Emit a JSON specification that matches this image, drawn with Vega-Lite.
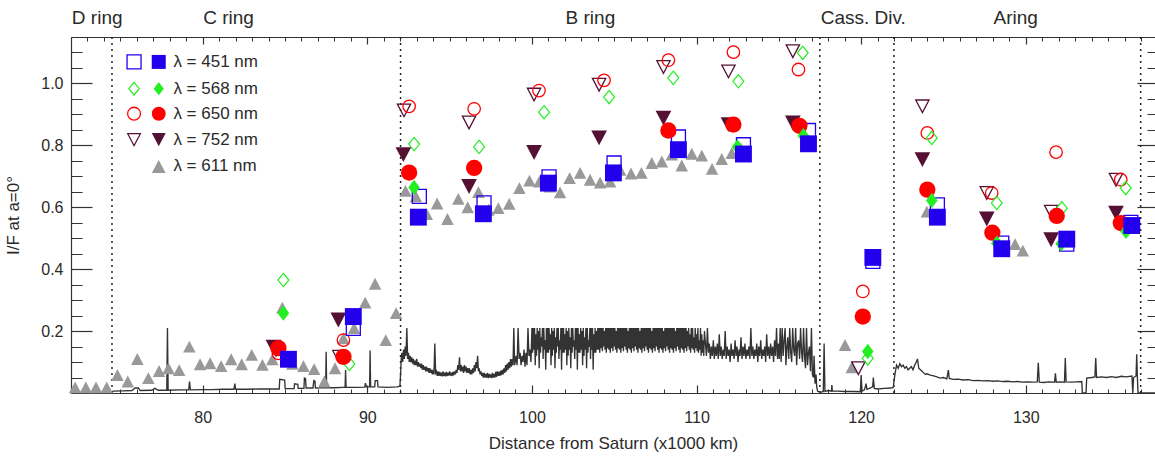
{
"$schema": "https://vega.github.io/schema/vega-lite/v6.json",
"width": 1084, "height": 356,
"autosize": {"type": "none"},
"padding": {"left": 71, "top": 37, "right": 0, "bottom": 64},
"background": "white",
"config": {
 "view": {"stroke": null},
 "axis": {"grid": false, "labelFont": "Liberation Sans", "titleFont": "Liberation Sans", "labelColor": "#2a2a2a", "titleColor": "#2a2a2a", "tickColor": "#333333", "domainColor": "#333333", "labelFontSize": 16, "titleFontSize": 17, "titleFontWeight": "normal", "labelFlush": false, "labelOverlap": false},
 "text": {"font": "Liberation Sans"}
},
"resolve": {"scale": {"x": "shared", "y": "shared", "size": "independent"}, "axis": {"x": "independent", "y": "independent"}},
"datasets": {
 "bounds": [{"r":74.49},{"r":92.02},{"r":117.49},{"r":121.99},{"r":136.98}],
 "legtxt": [
  {"x":78.22,"y":1.0695,"t":"λ = 451 nm"},
  {"x":78.22,"y":0.9832,"t":"λ = 568 nm"},
  {"x":78.22,"y":0.9023,"t":"λ = 650 nm"},
  {"x":78.22,"y":0.8182,"t":"λ = 752 nm"},
  {"x":78.22,"y":0.7319,"t":"λ = 611 nm"}
 ],
 "prof": [
  {"r":72.0,"p":0.002},{"r":73.5,"p":0.002},{"r":74.45,"p":0.003},{"r":74.55,"p":0.006},{"r":75.2,"p":0.007},{"r":75.7,"p":0.008},{"r":75.9,"p":0.016},{"r":76.1,"p":0.016},{"r":76.2,"p":0.008},{"r":76.9,"p":0.009},{"r":77.1,"p":0.015},{"r":77.3,"p":0.009},{"r":77.82,"p":0.009},{"r":77.86,"p":0.21},{"r":77.9,"p":0.009},{"r":78.6,"p":0.01},{"r":79.15,"p":0.01},{"r":79.2,"p":0.037},{"r":79.25,"p":0.01},{"r":80.0,"p":0.011},{"r":80.6,"p":0.011},{"r":81.2,"p":0.012},{"r":81.9,"p":0.012},{"r":81.95,"p":0.03},{"r":82.0,"p":0.012},{"r":82.7,"p":0.012},{"r":83.4,"p":0.013},{"r":84.1,"p":0.013},{"r":84.65,"p":0.013},{"r":84.68,"p":0.044},{"r":84.98,"p":0.042},{"r":85.01,"p":0.014},{"r":85.55,"p":0.014},{"r":85.58,"p":0.03},{"r":85.78,"p":0.028},{"r":85.8,"p":0.015},{"r":86.15,"p":0.015},{"r":86.18,"p":0.048},{"r":86.25,"p":0.046},{"r":86.28,"p":0.016},{"r":86.7,"p":0.016},{"r":86.75,"p":0.04},{"r":86.82,"p":0.038},{"r":86.85,"p":0.016},{"r":87.15,"p":0.017},{"r":87.18,"p":0.03},{"r":87.22,"p":0.017},{"r":87.47,"p":0.017},{"r":87.5,"p":0.133},{"r":87.53,"p":0.017},{"r":88.0,"p":0.017},{"r":88.5,"p":0.018},{"r":88.65,"p":0.018},{"r":88.68,"p":0.074},{"r":88.71,"p":0.018},{"r":89.3,"p":0.018},{"r":89.85,"p":0.019},{"r":89.88,"p":0.032},{"r":89.95,"p":0.02},{"r":90.14,"p":0.02},{"r":90.17,"p":0.137},{"r":90.2,"p":0.02},{"r":90.45,"p":0.02},{"r":90.48,"p":0.04},{"r":90.62,"p":0.04},{"r":90.65,"p":0.02},{"r":91.2,"p":0.018},{"r":91.8,"p":0.02},{"r":91.98,"p":0.022},
  {"r":92.02,"p":0.06},{"r":92.06,"p":0.11},{"r":92.1,"p":0.13},{"r":92.15,"p":0.1},{"r":92.2,"p":0.14},{"r":92.25,"p":0.11},{"r":92.3,"p":0.15},{"r":92.35,"p":0.12},{"r":92.4,"p":0.21},{"r":92.45,"p":0.11},{"r":92.5,"p":0.13},{"r":92.55,"p":0.1},{"r":92.6,"p":0.12},{"r":92.65,"p":0.1},{"r":92.7,"p":0.115},{"r":92.75,"p":0.095},{"r":92.8,"p":0.11},{"r":92.85,"p":0.09},{"r":92.9,"p":0.105},{"r":92.95,"p":0.09},{"r":93.0,"p":0.11},{"r":93.05,"p":0.085},{"r":93.1,"p":0.1},{"r":93.15,"p":0.085},{"r":93.2,"p":0.095},{"r":93.25,"p":0.08},{"r":93.3,"p":0.095},{"r":93.35,"p":0.075},{"r":93.4,"p":0.09},{"r":93.45,"p":0.075},{"r":93.5,"p":0.085},{"r":93.55,"p":0.07},{"r":93.6,"p":0.085},{"r":93.65,"p":0.07},{"r":93.7,"p":0.08},{"r":93.75,"p":0.065},{"r":93.8,"p":0.08},{"r":93.85,"p":0.065},{"r":93.9,"p":0.075},{"r":93.95,"p":0.06},{"r":94.0,"p":0.075},{"r":94.05,"p":0.06},{"r":94.1,"p":0.16},{"r":94.15,"p":0.065},{"r":94.2,"p":0.07},{"r":94.25,"p":0.055},{"r":94.3,"p":0.07},{"r":94.35,"p":0.055},{"r":94.4,"p":0.068},{"r":94.45,"p":0.055},{"r":94.5,"p":0.066},{"r":94.55,"p":0.054},{"r":94.6,"p":0.07},{"r":94.65,"p":0.055},{"r":94.7,"p":0.066},{"r":94.75,"p":0.054},{"r":94.8,"p":0.068},{"r":94.85,"p":0.055},{"r":94.9,"p":0.066},{"r":94.95,"p":0.056},{"r":95.0,"p":0.07},{"r":95.05,"p":0.056},{"r":95.1,"p":0.066},{"r":95.15,"p":0.055},{"r":95.2,"p":0.068},{"r":95.25,"p":0.057},{"r":95.3,"p":0.07},{"r":95.35,"p":0.06},{"r":95.4,"p":0.075},{"r":95.45,"p":0.065},{"r":95.5,"p":0.09},{"r":95.55,"p":0.075},{"r":95.6,"p":0.115},{"r":95.65,"p":0.07},{"r":95.7,"p":0.09},{"r":95.75,"p":0.07},{"r":95.8,"p":0.085},{"r":95.85,"p":0.065},{"r":95.9,"p":0.09},{"r":95.95,"p":0.07},{"r":96.0,"p":0.085},{"r":96.05,"p":0.065},{"r":96.1,"p":0.08},{"r":96.15,"p":0.065},{"r":96.2,"p":0.08},{"r":96.25,"p":0.06},{"r":96.3,"p":0.075},{"r":96.35,"p":0.06},{"r":96.4,"p":0.08},{"r":96.45,"p":0.065},{"r":96.5,"p":0.09},{"r":96.55,"p":0.07},{"r":96.6,"p":0.1},{"r":96.65,"p":0.08},{"r":96.7,"p":0.12},{"r":96.75,"p":0.07},{"r":96.8,"p":0.08},{"r":96.85,"p":0.06},{"r":96.9,"p":0.07},{"r":96.95,"p":0.055},{"r":97.0,"p":0.065},{"r":97.05,"p":0.05},{"r":97.1,"p":0.065},{"r":97.15,"p":0.05},{"r":97.2,"p":0.062},{"r":97.25,"p":0.05},{"r":97.3,"p":0.065},{"r":97.35,"p":0.048},{"r":97.4,"p":0.062},{"r":97.45,"p":0.05},{"r":97.5,"p":0.06},{"r":97.55,"p":0.048},{"r":97.6,"p":0.065},{"r":97.65,"p":0.05},{"r":97.7,"p":0.062},{"r":97.75,"p":0.05},{"r":97.8,"p":0.068},{"r":97.85,"p":0.052},{"r":97.9,"p":0.07},{"r":97.95,"p":0.055},{"r":98.0,"p":0.068},{"r":98.05,"p":0.055},{"r":98.1,"p":0.072},{"r":98.15,"p":0.058},{"r":98.2,"p":0.075},{"r":98.25,"p":0.06},{"r":98.3,"p":0.08},{"r":98.35,"p":0.065},{"r":98.4,"p":0.09},{"r":98.45,"p":0.07},{"r":98.5,"p":0.095},{"r":98.55,"p":0.075},{"r":98.6,"p":0.1},{"r":98.65,"p":0.08},{"r":98.7,"p":0.11},{"r":98.75,"p":0.085},{"r":98.8,"p":0.11},{"r":98.85,"p":0.09},{"r":98.9,"p":0.21},{"r":98.95,"p":0.09},
  {"r":99.04,"p":0.12},{"r":99.1,"p":0.09},{"r":99.16,"p":0.21},{"r":99.22,"p":0.11},{"r":99.28,"p":0.13},{"r":99.34,"p":0.09},{"r":99.4,"p":0.12},{"r":99.46,"p":0.1},{"r":99.52,"p":0.14},{"r":99.58,"p":0.085},{"r":99.64,"p":0.13},{"r":99.7,"p":0.09},{"r":99.76,"p":0.21},{"r":99.82,"p":0.12},{"r":99.88,"p":0.14},{"r":99.94,"p":0.1},{"r":100.0,"p":0.21},
  {"r":100.04,"p":0.13},{"r":100.08,"p":0.21},{"r":100.12,"p":0.14},{"r":100.16,"p":0.21},{"r":100.2,"p":0.09},{"r":100.24,"p":0.19},{"r":100.28,"p":0.12},{"r":100.32,"p":0.21},{"r":100.36,"p":0.14},{"r":100.4,"p":0.2},{"r":100.44,"p":0.08},{"r":100.48,"p":0.21},{"r":100.52,"p":0.13},{"r":100.56,"p":0.18},{"r":100.6,"p":0.15},{"r":100.64,"p":0.21},{"r":100.68,"p":0.11},{"r":100.72,"p":0.21},{"r":100.76,"p":0.14},{"r":100.8,"p":0.17},{"r":100.84,"p":0.075},{"r":100.88,"p":0.21},{"r":100.92,"p":0.13},{"r":100.96,"p":0.21},
  {"r":101.0,"p":0.13},{"r":101.04,"p":0.21},{"r":101.08,"p":0.14},{"r":101.12,"p":0.19},{"r":101.16,"p":0.09},{"r":101.2,"p":0.21},{"r":101.24,"p":0.12},{"r":101.28,"p":0.2},{"r":101.32,"p":0.14},{"r":101.36,"p":0.21},{"r":101.4,"p":0.08},{"r":101.44,"p":0.18},{"r":101.48,"p":0.13},{"r":101.52,"p":0.21},{"r":101.56,"p":0.15},{"r":101.6,"p":0.21},{"r":101.64,"p":0.11},{"r":101.68,"p":0.17},{"r":101.72,"p":0.14},{"r":101.76,"p":0.21},{"r":101.8,"p":0.075},{"r":101.84,"p":0.21},{"r":101.88,"p":0.13},{"r":101.92,"p":0.21},{"r":101.96,"p":0.13},
  {"r":102.0,"p":0.19},{"r":102.04,"p":0.14},{"r":102.08,"p":0.21},{"r":102.12,"p":0.09},{"r":102.16,"p":0.2},{"r":102.2,"p":0.12},{"r":102.24,"p":0.21},{"r":102.28,"p":0.14},{"r":102.32,"p":0.18},{"r":102.36,"p":0.08},{"r":102.4,"p":0.21},{"r":102.44,"p":0.13},{"r":102.48,"p":0.21},{"r":102.52,"p":0.15},{"r":102.56,"p":0.17},{"r":102.6,"p":0.11},{"r":102.64,"p":0.21},{"r":102.68,"p":0.14},{"r":102.72,"p":0.21},{"r":102.76,"p":0.075},{"r":102.8,"p":0.21},{"r":102.84,"p":0.13},{"r":102.88,"p":0.19},{"r":102.92,"p":0.13},{"r":102.96,"p":0.21},
  {"r":103.0,"p":0.14},{"r":103.04,"p":0.2},{"r":103.08,"p":0.09},{"r":103.12,"p":0.21},{"r":103.16,"p":0.12},{"r":103.2,"p":0.18},{"r":103.24,"p":0.14},{"r":103.28,"p":0.21},{"r":103.32,"p":0.08},{"r":103.36,"p":0.21},{"r":103.4,"p":0.13},{"r":103.44,"p":0.17},{"r":103.48,"p":0.15},{"r":103.52,"p":0.21},{"r":103.56,"p":0.11},{"r":103.6,"p":0.21},{"r":103.64,"p":0.14},{"r":103.68,"p":0.21},{"r":103.72,"p":0.075},{"r":103.76,"p":0.19},{"r":103.8,"p":0.13},{"r":103.84,"p":0.21},{"r":103.88,"p":0.13},{"r":103.92,"p":0.2},{"r":103.96,"p":0.14},{"r":104.0,"p":0.21},
  {"r":104.04,"p":0.14},{"r":104.08,"p":0.21},{"r":104.12,"p":0.13},{"r":104.16,"p":0.21},{"r":104.2,"p":0.145},{"r":104.24,"p":0.21},{"r":104.28,"p":0.135},{"r":104.32,"p":0.21},{"r":104.36,"p":0.15},{"r":104.4,"p":0.2},{"r":104.44,"p":0.14},{"r":104.48,"p":0.21},{"r":104.52,"p":0.13},{"r":104.56,"p":0.21},{"r":104.6,"p":0.145},{"r":104.64,"p":0.21},{"r":104.68,"p":0.14},{"r":104.72,"p":0.21},{"r":104.76,"p":0.13},{"r":104.8,"p":0.21},{"r":104.84,"p":0.145},{"r":104.88,"p":0.21},{"r":104.92,"p":0.135},{"r":104.96,"p":0.21},
  {"r":105.0,"p":0.15},{"r":105.04,"p":0.21},{"r":105.08,"p":0.14},{"r":105.12,"p":0.2},{"r":105.16,"p":0.13},{"r":105.2,"p":0.21},{"r":105.24,"p":0.145},{"r":105.28,"p":0.21},{"r":105.32,"p":0.14},{"r":105.36,"p":0.21},{"r":105.4,"p":0.13},{"r":105.44,"p":0.21},{"r":105.48,"p":0.145},{"r":105.52,"p":0.21},{"r":105.56,"p":0.135},{"r":105.6,"p":0.21},{"r":105.64,"p":0.15},{"r":105.68,"p":0.21},{"r":105.72,"p":0.14},{"r":105.76,"p":0.21},{"r":105.8,"p":0.13},{"r":105.84,"p":0.2},{"r":105.88,"p":0.145},{"r":105.92,"p":0.21},{"r":105.96,"p":0.14},
  {"r":106.0,"p":0.21},{"r":106.04,"p":0.13},{"r":106.08,"p":0.21},{"r":106.12,"p":0.145},{"r":106.16,"p":0.21},{"r":106.2,"p":0.135},{"r":106.24,"p":0.21},{"r":106.28,"p":0.15},{"r":106.32,"p":0.21},{"r":106.36,"p":0.14},{"r":106.4,"p":0.21},{"r":106.44,"p":0.13},{"r":106.48,"p":0.21},{"r":106.52,"p":0.145},{"r":106.56,"p":0.2},{"r":106.6,"p":0.14},{"r":106.64,"p":0.21},{"r":106.68,"p":0.13},{"r":106.72,"p":0.21},{"r":106.76,"p":0.145},{"r":106.8,"p":0.21},{"r":106.84,"p":0.135},{"r":106.88,"p":0.21},{"r":106.92,"p":0.15},{"r":106.96,"p":0.21},
  {"r":107.0,"p":0.14},{"r":107.04,"p":0.21},{"r":107.08,"p":0.13},{"r":107.12,"p":0.21},{"r":107.16,"p":0.145},{"r":107.2,"p":0.21},{"r":107.24,"p":0.14},{"r":107.28,"p":0.2},{"r":107.32,"p":0.13},{"r":107.36,"p":0.21},{"r":107.4,"p":0.145},{"r":107.44,"p":0.21},{"r":107.48,"p":0.135},{"r":107.52,"p":0.21},{"r":107.56,"p":0.15},{"r":107.6,"p":0.21},{"r":107.64,"p":0.14},{"r":107.68,"p":0.21},{"r":107.72,"p":0.13},{"r":107.76,"p":0.21},{"r":107.8,"p":0.145},{"r":107.84,"p":0.21},{"r":107.88,"p":0.14},{"r":107.92,"p":0.21},{"r":107.96,"p":0.13},
  {"r":108.0,"p":0.2},{"r":108.04,"p":0.145},{"r":108.08,"p":0.21},{"r":108.12,"p":0.135},{"r":108.16,"p":0.21},{"r":108.2,"p":0.15},{"r":108.24,"p":0.21},{"r":108.28,"p":0.14},{"r":108.32,"p":0.21},{"r":108.36,"p":0.13},{"r":108.4,"p":0.21},{"r":108.44,"p":0.145},{"r":108.48,"p":0.21},{"r":108.52,"p":0.14},{"r":108.56,"p":0.21},{"r":108.6,"p":0.13},{"r":108.64,"p":0.21},{"r":108.68,"p":0.145},{"r":108.72,"p":0.2},{"r":108.76,"p":0.135},{"r":108.8,"p":0.21},{"r":108.84,"p":0.15},{"r":108.88,"p":0.21},{"r":108.92,"p":0.14},{"r":108.96,"p":0.21},
  {"r":109.0,"p":0.13},{"r":109.04,"p":0.21},{"r":109.08,"p":0.145},{"r":109.12,"p":0.21},{"r":109.16,"p":0.14},{"r":109.2,"p":0.21},{"r":109.24,"p":0.13},{"r":109.28,"p":0.21},{"r":109.32,"p":0.145},{"r":109.36,"p":0.21},{"r":109.4,"p":0.135},{"r":109.44,"p":0.2},{"r":109.48,"p":0.15},{"r":109.52,"p":0.21},{"r":109.56,"p":0.14},{"r":109.6,"p":0.19},{"r":109.64,"p":0.13},{"r":109.68,"p":0.21},{"r":109.72,"p":0.145},{"r":109.76,"p":0.21},{"r":109.8,"p":0.14},{"r":109.84,"p":0.18},{"r":109.88,"p":0.13},{"r":109.92,"p":0.21},{"r":109.96,"p":0.145},
  {"r":110.0,"p":0.19},{"r":110.04,"p":0.135},{"r":110.08,"p":0.21},{"r":110.12,"p":0.13},{"r":110.16,"p":0.17},{"r":110.2,"p":0.14},{"r":110.24,"p":0.21},{"r":110.28,"p":0.12},{"r":110.32,"p":0.19},{"r":110.36,"p":0.13},{"r":110.4,"p":0.17},{"r":110.44,"p":0.12},{"r":110.48,"p":0.2},
  {"r":110.54,"p":0.16},{"r":110.6,"p":0.12},{"r":110.66,"p":0.21},{"r":110.72,"p":0.13},{"r":110.78,"p":0.16},{"r":110.84,"p":0.11},{"r":110.9,"p":0.15},{"r":110.96,"p":0.12},{"r":111.02,"p":0.17},{"r":111.08,"p":0.11},{"r":111.14,"p":0.15},{"r":111.2,"p":0.12},{"r":111.26,"p":0.16},{"r":111.32,"p":0.11},{"r":111.38,"p":0.19},{"r":111.44,"p":0.12},{"r":111.5,"p":0.15},{"r":111.56,"p":0.11},{"r":111.62,"p":0.14},{"r":111.68,"p":0.12},{"r":111.74,"p":0.2},{"r":111.8,"p":0.11},{"r":111.86,"p":0.15},{"r":111.92,"p":0.12},{"r":111.98,"p":0.14},{"r":112.04,"p":0.1},{"r":112.1,"p":0.16},{"r":112.16,"p":0.12},{"r":112.22,"p":0.14},{"r":112.28,"p":0.11},{"r":112.34,"p":0.17},{"r":112.4,"p":0.12},{"r":112.46,"p":0.15},{"r":112.52,"p":0.1},{"r":112.58,"p":0.14},{"r":112.64,"p":0.12},{"r":112.7,"p":0.18},{"r":112.76,"p":0.11},{"r":112.82,"p":0.15},{"r":112.88,"p":0.12},{"r":112.94,"p":0.16},{"r":113.0,"p":0.11},{"r":113.06,"p":0.14},{"r":113.12,"p":0.12},{"r":113.18,"p":0.15},{"r":113.24,"p":0.11},{"r":113.3,"p":0.21},{"r":113.36,"p":0.12},{"r":113.42,"p":0.15},{"r":113.48,"p":0.11},{"r":113.54,"p":0.14},{"r":113.6,"p":0.12},{"r":113.66,"p":0.16},{"r":113.72,"p":0.1},{"r":113.78,"p":0.15},{"r":113.84,"p":0.12},{"r":113.9,"p":0.17},{"r":113.96,"p":0.11},{"r":114.02,"p":0.14},{"r":114.08,"p":0.12},{"r":114.14,"p":0.15},{"r":114.2,"p":0.1},{"r":114.26,"p":0.19},{"r":114.32,"p":0.12},{"r":114.38,"p":0.15},{"r":114.44,"p":0.11},{"r":114.5,"p":0.16},{"r":114.56,"p":0.12},{"r":114.62,"p":0.15},{"r":114.68,"p":0.1},{"r":114.74,"p":0.17},{"r":114.8,"p":0.12},{"r":114.86,"p":0.21},{"r":114.92,"p":0.11},
  {"r":114.98,"p":0.16},{"r":115.03,"p":0.11},{"r":115.08,"p":0.21},{"r":115.14,"p":0.1},{"r":115.2,"p":0.21},{"r":115.26,"p":0.12},{"r":115.32,"p":0.17},{"r":115.38,"p":0.21},{"r":115.43,"p":0.09},{"r":115.49,"p":0.15},{"r":115.54,"p":0.18},{"r":115.6,"p":0.11},{"r":115.66,"p":0.21},{"r":115.72,"p":0.13},{"r":115.78,"p":0.1},{"r":115.84,"p":0.21},{"r":115.9,"p":0.14},{"r":115.96,"p":0.12},{"r":116.02,"p":0.21},{"r":116.08,"p":0.09},{"r":116.14,"p":0.16},{"r":116.2,"p":0.17},{"r":116.26,"p":0.11},{"r":116.32,"p":0.21},{"r":116.38,"p":0.13},{"r":116.44,"p":0.1},{"r":116.5,"p":0.21},{"r":116.56,"p":0.12},{"r":116.62,"p":0.08},{"r":116.68,"p":0.21},{"r":116.74,"p":0.09},{"r":116.8,"p":0.13},{"r":116.86,"p":0.15},{"r":116.92,"p":0.07},{"r":116.98,"p":0.21},{"r":117.04,"p":0.06},{"r":117.1,"p":0.05},{"r":117.14,"p":0.12},{"r":117.2,"p":0.03},{"r":117.26,"p":0.06},{"r":117.3,"p":0.02},{"r":117.36,"p":0.005},{"r":117.6,"p":0.003},{"r":117.7,"p":0.005},{"r":117.75,"p":0.16},{"r":117.8,"p":0.005},{"r":118.0,"p":0.008},{"r":118.2,"p":0.006},{"r":118.22,"p":0.026},{"r":118.25,"p":0.006},{"r":118.6,"p":0.006},{"r":119.0,"p":0.005},{"r":119.5,"p":0.005},{"r":119.95,"p":0.004},{"r":120.0,"p":0.058},{"r":120.05,"p":0.006},{"r":120.2,"p":0.01},{"r":120.3,"p":0.03},{"r":120.35,"p":0.012},{"r":120.5,"p":0.015},{"r":120.7,"p":0.02},{"r":120.74,"p":0.05},{"r":120.8,"p":0.015},{"r":121.0,"p":0.013},{"r":121.4,"p":0.015},{"r":121.8,"p":0.016},{"r":121.95,"p":0.018},{"r":122.05,"p":0.06},{"r":122.15,"p":0.09},{"r":122.25,"p":0.08},{"r":122.35,"p":0.095},{"r":122.45,"p":0.085},{"r":122.55,"p":0.09},{"r":122.65,"p":0.08},{"r":122.75,"p":0.085},{"r":122.85,"p":0.075},{"r":122.95,"p":0.08},{"r":123.05,"p":0.085},{"r":123.15,"p":0.075},{"r":123.25,"p":0.09},{"r":123.35,"p":0.1},{"r":123.42,"p":0.11},{"r":123.5,"p":0.08},{"r":123.6,"p":0.075},{"r":123.7,"p":0.07},{"r":123.8,"p":0.065},{"r":123.9,"p":0.06},{"r":124.0,"p":0.062},{"r":124.2,"p":0.058},{"r":124.4,"p":0.055},{"r":124.6,"p":0.052},{"r":124.8,"p":0.048},{"r":125.0,"p":0.05},{"r":125.2,"p":0.046},{"r":125.3,"p":0.074},{"r":125.35,"p":0.047},{"r":125.6,"p":0.044},{"r":125.9,"p":0.045},{"r":126.2,"p":0.042},{"r":126.5,"p":0.043},{"r":126.8,"p":0.04},{"r":127.1,"p":0.041},{"r":127.4,"p":0.039},{"r":127.7,"p":0.04},{"r":128.0,"p":0.038},{"r":128.3,"p":0.039},{"r":128.6,"p":0.037},{"r":128.9,"p":0.038},{"r":129.2,"p":0.036},{"r":129.5,"p":0.037},{"r":129.8,"p":0.035},{"r":130.1,"p":0.036},{"r":130.4,"p":0.035},{"r":130.7,"p":0.036},{"r":130.76,"p":0.098},{"r":130.82,"p":0.035},{"r":131.1,"p":0.034},{"r":131.4,"p":0.036},{"r":131.75,"p":0.035},{"r":131.8,"p":0.064},{"r":131.85,"p":0.035},{"r":132.1,"p":0.036},{"r":132.35,"p":0.035},{"r":132.4,"p":0.113},{"r":132.45,"p":0.036},{"r":132.8,"p":0.035},{"r":133.1,"p":0.036},{"r":133.4,"p":0.037},{"r":133.44,"p":0.0},{"r":133.66,"p":0.0},{"r":133.7,"p":0.048},{"r":134.0,"p":0.05},{"r":134.2,"p":0.052},{"r":134.25,"p":0.113},{"r":134.3,"p":0.05},{"r":134.6,"p":0.052},{"r":134.9,"p":0.05},{"r":135.2,"p":0.053},{"r":135.5,"p":0.05},{"r":135.8,"p":0.054},{"r":136.1,"p":0.052},{"r":136.45,"p":0.055},{"r":136.5,"p":0.0},{"r":136.55,"p":0.05},{"r":136.7,"p":0.055},{"r":136.74,"p":0.125},{"r":136.78,"p":0.05},{"r":136.82,"p":0.0},{"r":137.85,"p":0.0}
 ],
 "pts": [
  {"lam":"611","f":"f","g":"d","x":72.25,"y":0.018},{"lam":"611","f":"f","g":"d","x":72.9,"y":0.018},{"lam":"611","f":"f","g":"d","x":73.52,"y":0.018},{"lam":"611","f":"f","g":"d","x":74.17,"y":0.018},{"lam":"611","f":"f","g":"d","x":74.82,"y":0.058},{"lam":"611","f":"f","g":"d","x":75.45,"y":0.037},{"lam":"611","f":"f","g":"d","x":76.03,"y":0.11},{"lam":"611","f":"f","g":"d","x":76.7,"y":0.048},{"lam":"611","f":"f","g":"d","x":77.35,"y":0.071},{"lam":"611","f":"f","g":"d","x":77.92,"y":0.08},{"lam":"611","f":"f","g":"d","x":78.57,"y":0.074},{"lam":"611","f":"f","g":"d","x":79.19,"y":0.15},{"lam":"611","f":"f","g":"d","x":79.84,"y":0.093},{"lam":"611","f":"f","g":"d","x":80.45,"y":0.096},{"lam":"611","f":"f","g":"d","x":81.12,"y":0.087},{"lam":"611","f":"f","g":"d","x":81.73,"y":0.109},{"lam":"611","f":"f","g":"d","x":82.37,"y":0.093},{"lam":"611","f":"f","g":"d","x":82.98,"y":0.123},{"lam":"611","f":"f","g":"d","x":83.63,"y":0.091},{"lam":"611","f":"f","g":"d","x":84.23,"y":0.109},{"lam":"611","f":"f","g":"d","x":84.84,"y":0.276},{"lam":"611","f":"f","g":"d","x":85.45,"y":0.094},{"lam":"611","f":"f","g":"d","x":86.12,"y":0.087},{"lam":"611","f":"f","g":"d","x":86.77,"y":0.077},{"lam":"611","f":"f","g":"d","x":87.39,"y":0.037},{"lam":"611","f":"f","g":"d","x":88.04,"y":0.08},{"lam":"611","f":"f","g":"d","x":88.55,"y":0.177},{"lam":"611","f":"f","g":"d","x":89.2,"y":0.21},{"lam":"611","f":"f","g":"d","x":89.87,"y":0.292},{"lam":"611","f":"f","g":"d","x":90.47,"y":0.353},{"lam":"611","f":"f","g":"d","x":91.12,"y":0.171},{"lam":"611","f":"f","g":"d","x":91.75,"y":0.258},
  {"lam":"611","f":"f","g":"d","x":92.32,"y":0.653},{"lam":"611","f":"f","g":"d","x":92.95,"y":0.635},{"lam":"611","f":"f","g":"d","x":93.61,"y":0.578},{"lam":"611","f":"f","g":"d","x":94.24,"y":0.612},{"lam":"611","f":"f","g":"d","x":94.87,"y":0.562},{"lam":"611","f":"f","g":"d","x":95.53,"y":0.627},{"lam":"611","f":"f","g":"d","x":96.1,"y":0.6},{"lam":"611","f":"f","g":"d","x":96.75,"y":0.649},{"lam":"611","f":"f","g":"d","x":97.36,"y":0.592},{"lam":"611","f":"f","g":"d","x":97.96,"y":0.597},{"lam":"611","f":"f","g":"d","x":98.62,"y":0.611},{"lam":"611","f":"f","g":"d","x":99.24,"y":0.662},{"lam":"611","f":"f","g":"d","x":99.85,"y":0.686},{"lam":"611","f":"f","g":"d","x":100.45,"y":0.683},{"lam":"611","f":"f","g":"d","x":101.08,"y":0.667},{"lam":"611","f":"f","g":"d","x":101.71,"y":0.648},{"lam":"611","f":"f","g":"d","x":102.29,"y":0.694},{"lam":"611","f":"f","g":"d","x":102.93,"y":0.711},{"lam":"611","f":"f","g":"d","x":103.53,"y":0.689},{"lam":"611","f":"f","g":"d","x":104.14,"y":0.68},{"lam":"611","f":"f","g":"d","x":104.75,"y":0.683},{"lam":"611","f":"f","g":"d","x":105.36,"y":0.721},{"lam":"611","f":"f","g":"d","x":106.02,"y":0.709},{"lam":"611","f":"f","g":"d","x":106.65,"y":0.711},{"lam":"611","f":"f","g":"d","x":107.28,"y":0.743},{"lam":"611","f":"f","g":"d","x":107.89,"y":0.748},{"lam":"611","f":"f","g":"d","x":108.5,"y":0.77},{"lam":"611","f":"f","g":"d","x":109.1,"y":0.735},{"lam":"611","f":"f","g":"d","x":109.71,"y":0.773},{"lam":"611","f":"f","g":"d","x":110.32,"y":0.767},{"lam":"611","f":"f","g":"d","x":110.94,"y":0.724},{"lam":"611","f":"f","g":"d","x":111.53,"y":0.756},{"lam":"611","f":"f","g":"d","x":112.14,"y":0.775},{"lam":"611","f":"f","g":"d","x":112.7,"y":0.79},
  {"lam":"611","f":"f","g":"d","x":119.02,"y":0.155},{"lam":"611","f":"f","g":"d","x":119.43,"y":0.083},{"lam":"611","f":"f","g":"d","x":123.99,"y":0.586},{"lam":"611","f":"f","g":"d","x":129.35,"y":0.481},{"lam":"611","f":"f","g":"d","x":129.82,"y":0.46},
  {"lam":"451","f":"o","g":"d","x":85.2,"y":0.11},{"lam":"451","f":"o","g":"d","x":89.15,"y":0.209},{"lam":"451","f":"o","g":"d","x":93.16,"y":0.635},{"lam":"451","f":"o","g":"d","x":97.09,"y":0.614},{"lam":"451","f":"o","g":"d","x":101.04,"y":0.698},{"lam":"451","f":"o","g":"d","x":104.99,"y":0.743},{"lam":"451","f":"o","g":"d","x":108.9,"y":0.827},{"lam":"451","f":"o","g":"d","x":112.85,"y":0.802},{"lam":"451","f":"o","g":"d","x":116.8,"y":0.848},{"lam":"451","f":"o","g":"d","x":120.71,"y":0.425},{"lam":"451","f":"o","g":"d","x":124.63,"y":0.608},{"lam":"451","f":"o","g":"d","x":128.54,"y":0.484},{"lam":"451","f":"o","g":"d","x":132.49,"y":0.481},{"lam":"451","f":"o","g":"d","x":136.38,"y":0.551},
  {"lam":"451","f":"f","g":"d","x":85.21,"y":0.109},{"lam":"451","f":"f","g":"d","x":89.15,"y":0.247},{"lam":"451","f":"f","g":"d","x":93.1,"y":0.568},{"lam":"451","f":"f","g":"d","x":97.05,"y":0.579},{"lam":"451","f":"f","g":"d","x":101.0,"y":0.678},{"lam":"451","f":"f","g":"d","x":104.95,"y":0.711},{"lam":"451","f":"f","g":"d","x":108.9,"y":0.786},{"lam":"451","f":"f","g":"d","x":112.85,"y":0.772},{"lam":"451","f":"f","g":"d","x":116.8,"y":0.805},{"lam":"451","f":"f","g":"d","x":120.71,"y":0.438},{"lam":"451","f":"f","g":"d","x":124.63,"y":0.568},{"lam":"451","f":"f","g":"d","x":128.54,"y":0.466},{"lam":"451","f":"f","g":"d","x":132.49,"y":0.497},{"lam":"451","f":"f","g":"d","x":136.44,"y":0.541},
  {"lam":"568","f":"o","g":"d","x":84.9,"y":0.365},{"lam":"568","f":"o","g":"d","x":88.91,"y":0.094},{"lam":"568","f":"o","g":"d","x":92.84,"y":0.804},{"lam":"568","f":"o","g":"d","x":96.79,"y":0.795},{"lam":"568","f":"o","g":"d","x":100.74,"y":0.907},{"lam":"568","f":"o","g":"d","x":104.69,"y":0.956},{"lam":"568","f":"o","g":"d","x":108.59,"y":1.018},{"lam":"568","f":"o","g":"d","x":112.54,"y":1.007},{"lam":"568","f":"o","g":"d","x":116.45,"y":1.099},{"lam":"568","f":"o","g":"d","x":120.4,"y":0.112},{"lam":"568","f":"o","g":"d","x":124.29,"y":0.824},{"lam":"568","f":"o","g":"d","x":128.24,"y":0.614},{"lam":"568","f":"o","g":"d","x":132.19,"y":0.597},{"lam":"568","f":"o","g":"d","x":136.07,"y":0.662},
  {"lam":"568","f":"f","g":"d","x":84.9,"y":0.258},{"lam":"568","f":"f","g":"d","x":92.84,"y":0.664},{"lam":"568","f":"f","g":"d","x":112.48,"y":0.795},{"lam":"568","f":"f","g":"d","x":116.49,"y":0.831},{"lam":"568","f":"f","g":"d","x":120.4,"y":0.134},{"lam":"568","f":"f","g":"d","x":124.29,"y":0.622},{"lam":"568","f":"f","g":"d","x":128.24,"y":0.484},{"lam":"568","f":"f","g":"d","x":132.15,"y":0.482},{"lam":"568","f":"f","g":"d","x":136.09,"y":0.522},
  {"lam":"650","f":"o","g":"d","x":84.6,"y":0.128},{"lam":"650","f":"o","g":"d","x":88.55,"y":0.171},{"lam":"650","f":"o","g":"d","x":92.54,"y":0.926},{"lam":"650","f":"o","g":"d","x":96.49,"y":0.918},{"lam":"650","f":"o","g":"d","x":100.43,"y":0.977},{"lam":"650","f":"o","g":"d","x":104.38,"y":1.01},{"lam":"650","f":"o","g":"d","x":108.29,"y":1.075},{"lam":"650","f":"o","g":"d","x":112.24,"y":1.101},{"lam":"650","f":"o","g":"d","x":116.19,"y":1.045},{"lam":"650","f":"o","g":"d","x":120.1,"y":0.328},{"lam":"650","f":"o","g":"d","x":124.02,"y":0.84},{"lam":"650","f":"o","g":"d","x":127.93,"y":0.646},{"lam":"650","f":"o","g":"d","x":131.84,"y":0.778},{"lam":"650","f":"o","g":"d","x":135.77,"y":0.689},
  {"lam":"650","f":"f","g":"d","x":84.6,"y":0.145},{"lam":"650","f":"f","g":"d","x":88.55,"y":0.117},{"lam":"650","f":"f","g":"d","x":92.54,"y":0.712},{"lam":"650","f":"f","g":"d","x":96.49,"y":0.727},{"lam":"650","f":"f","g":"d","x":108.29,"y":0.848},{"lam":"650","f":"f","g":"d","x":112.24,"y":0.867},{"lam":"650","f":"f","g":"d","x":116.25,"y":0.863},{"lam":"650","f":"f","g":"d","x":120.1,"y":0.247},{"lam":"650","f":"f","g":"d","x":124.02,"y":0.657},{"lam":"650","f":"f","g":"d","x":127.97,"y":0.518},{"lam":"650","f":"f","g":"d","x":131.88,"y":0.572},{"lam":"650","f":"f","g":"d","x":135.77,"y":0.549},
  {"lam":"752","f":"o","g":"d","x":84.45,"y":0.14},{"lam":"752","f":"o","g":"d","x":88.3,"y":0.117},{"lam":"752","f":"o","g":"d","x":92.23,"y":0.913},{"lam":"752","f":"o","g":"d","x":96.18,"y":0.874},{"lam":"752","f":"o","g":"d","x":100.13,"y":0.964},{"lam":"752","f":"o","g":"d","x":104.08,"y":0.996},{"lam":"752","f":"o","g":"d","x":107.99,"y":1.053},{"lam":"752","f":"o","g":"d","x":111.94,"y":1.039},{"lam":"752","f":"o","g":"d","x":115.85,"y":1.104},{"lam":"752","f":"o","g":"d","x":119.83,"y":0.08},{"lam":"752","f":"o","g":"d","x":123.72,"y":0.926},{"lam":"752","f":"o","g":"d","x":127.63,"y":0.646},{"lam":"752","f":"o","g":"d","x":131.54,"y":0.586},{"lam":"752","f":"o","g":"d","x":135.48,"y":0.689},
  {"lam":"752","f":"f","g":"d","x":84.3,"y":0.148},{"lam":"752","f":"f","g":"d","x":88.24,"y":0.236},{"lam":"752","f":"f","g":"d","x":92.19,"y":0.77},{"lam":"752","f":"f","g":"d","x":96.18,"y":0.667},{"lam":"752","f":"f","g":"d","x":100.13,"y":0.777},{"lam":"752","f":"f","g":"d","x":104.08,"y":0.824},{"lam":"752","f":"f","g":"d","x":107.99,"y":0.888},{"lam":"752","f":"f","g":"d","x":111.94,"y":0.867},{"lam":"752","f":"f","g":"d","x":115.85,"y":0.872},{"lam":"752","f":"f","g":"d","x":123.72,"y":0.754},{"lam":"752","f":"f","g":"d","x":127.63,"y":0.562},{"lam":"752","f":"f","g":"d","x":131.54,"y":0.495},{"lam":"752","f":"f","g":"d","x":135.48,"y":0.581},
  {"lam":"451","f":"o","g":"l","x":75.83,"y":1.0695},{"lam":"451","f":"f","g":"l","x":77.33,"y":1.0695},
  {"lam":"568","f":"o","g":"l","x":75.83,"y":0.9832},{"lam":"568","f":"f","g":"l","x":77.33,"y":0.9832},
  {"lam":"650","f":"o","g":"l","x":75.83,"y":0.9023},{"lam":"650","f":"f","g":"l","x":77.33,"y":0.9023},
  {"lam":"752","f":"o","g":"l","x":75.83,"y":0.8182},{"lam":"752","f":"f","g":"l","x":77.33,"y":0.8182},
  {"lam":"611","f":"f","g":"l","x":77.33,"y":0.7319}
 ]
},
"layer": [
 {"data": {"name": "bounds"},
  "mark": {"type": "rule", "strokeDash": [2, 4], "strokeWidth": 1.5, "color": "#222222"},
  "encoding": {"x": {"field": "r", "type": "quantitative", "scale": {"domain": [72, 137.85], "nice": false, "zero": false}, "axis": null}}},
 {"data": {"name": "prof"},
  "mark": {"type": "line", "color": "#333333", "strokeWidth": 1.35},
  "encoding": {
   "x": {"field": "r", "type": "quantitative", "scale": {"domain": [72, 137.85], "nice": false, "zero": false},
         "axis": {"orient": "bottom", "values": [80, 90, 100, 110, 120, 130], "format": "d", "tickSize": -8, "tickWidth": 1.2, "labelPadding": 24, "domainWidth": 1.2, "title": "Distance from Saturn (x1000 km)", "titlePadding": 10}},
   "y": {"field": "p", "type": "quantitative", "scale": {"domain": [0, 1.15], "nice": false, "zero": false},
         "axis": {"orient": "left", "values": [0.2, 0.4, 0.6, 0.8, 1.0], "format": ".1f", "tickSize": -21, "tickWidth": 1.2, "labelPadding": 29, "domainWidth": 1.2, "title": "I/F at a=0°", "titlePadding": 18}}}},
 {"data": {"name": "pts"},
  "transform": [{"filter": "datum.lam == '611'"}],
  "mark": {"type": "point", "shape": "M0,-0.95L1,0.95L-1,0.95Z", "filled": true, "color": "#999999", "opacity": 1},
  "encoding": {
   "x": {"field": "x", "type": "quantitative", "scale": {"domain": [72, 137.85], "nice": false, "zero": false},
         "axis": {"orient": "bottom", "values": [72,73,74,75,76,77,78,79,81,82,83,84,85,86,87,88,89,91,92,93,94,95,96,97,98,99,101,102,103,104,105,106,107,108,109,111,112,113,114,115,116,117,118,119,121,122,123,124,125,126,127,128,129,131,132,133,134,135,136,137], "labels": false, "domain": false, "tickSize": -4, "tickWidth": 1, "title": null}},
   "y": {"field": "y", "type": "quantitative", "scale": {"domain": [0, 1.15], "nice": false, "zero": false},
         "axis": {"orient": "left", "values": [0.05,0.1,0.15,0.25,0.3,0.35,0.45,0.5,0.55,0.65,0.7,0.75,0.85,0.9,0.95,1.05,1.1], "labels": false, "domain": false, "tickSize": -11, "tickWidth": 1, "title": null}},
   "size": {"field": "g", "type": "nominal", "scale": {"type": "ordinal", "domain": ["d", "l"], "range": [156, 190]}, "legend": null}}},
 {"data": {"name": "pts"},
  "transform": [{"filter": "datum.lam == '752' && datum.f == 'o'"}],
  "mark": {"type": "point", "shape": "M-1,-0.95L1,-0.95L0,0.95Z", "filled": false, "color": "#551133", "strokeWidth": 1.3, "opacity": 1},
  "encoding": {
   "x": {"field": "x", "type": "quantitative", "scale": {"domain": [72, 137.85], "nice": false, "zero": false},
         "axis": {"orient": "top", "values": [80, 90, 100, 110, 120, 130], "labels": false, "tickSize": -7, "tickWidth": 1.2, "domainWidth": 1.2, "title": null}},
   "y": {"field": "y", "type": "quantitative", "scale": {"domain": [0, 1.15], "nice": false, "zero": false},
         "axis": {"orient": "right", "values": [0.2, 0.4, 0.6, 0.8, 1.0], "labels": false, "domain": false, "tickSize": -21, "tickWidth": 1.2, "offset": 3, "title": null}},
   "size": {"field": "g", "type": "nominal", "scale": {"type": "ordinal", "domain": ["d", "l"], "range": [177, 160]}, "legend": null}}},
 {"data": {"name": "pts"},
  "transform": [{"filter": "datum.lam == '650' && datum.f == 'o'"}],
  "mark": {"type": "point", "shape": "circle", "filled": false, "color": "#ff0000", "strokeWidth": 1.3, "opacity": 1},
  "encoding": {
   "x": {"field": "x", "type": "quantitative", "scale": {"domain": [72, 137.85], "nice": false, "zero": false},
         "axis": {"orient": "top", "values": [72,73,74,75,76,77,78,79,81,82,83,84,85,86,87,88,89,91,92,93,94,95,96,97,98,99,101,102,103,104,105,106,107,108,109,111,112,113,114,115,116,117,118,119,121,122,123,124,125,126,127,128,129,131,132,133,134,135,136,137], "labels": false, "domain": false, "tickSize": -4, "tickWidth": 1, "title": null}},
   "y": {"field": "y", "type": "quantitative", "scale": {"domain": [0, 1.15], "nice": false, "zero": false},
         "axis": {"orient": "right", "values": [0.05,0.1,0.15,0.25,0.3,0.35,0.45,0.5,0.55,0.65,0.7,0.75,0.85,0.9,0.95,1.05,1.1], "labels": false, "domain": false, "tickSize": -11, "tickWidth": 1, "offset": 3, "title": null}},
   "size": {"field": "g", "type": "nominal", "scale": {"type": "ordinal", "domain": ["d", "l"], "range": [156, 165]}, "legend": null}}},
 {"data": {"name": "pts"},
  "transform": [{"filter": "datum.lam == '568' && datum.f == 'o'"}],
  "mark": {"type": "point", "shape": "M0,-1L0.82,0L0,1L-0.82,0Z", "filled": false, "color": "#22ee22", "strokeWidth": 1.2, "opacity": 1},
  "encoding": {
   "x": {"field": "x", "type": "quantitative", "scale": {"domain": [72, 137.85], "nice": false, "zero": false},
         "axis": {"orient": "top", "values": [73.56, 81.54, 103.52, 120.1, 129.36], "ticks": false, "tickSize": 0, "domain": false, "labelFontSize": 19, "labelPadding": 14, "labelBaseline": "alphabetic", "labelExpr": "datum.value < 75 ? 'D ring' : datum.value < 90 ? 'C ring' : datum.value < 110 ? 'B ring' : datum.value < 125 ? 'Cass. Div.' : 'Aring'", "title": null}},
   "y": {"field": "y", "type": "quantitative", "scale": {"domain": [0, 1.15], "nice": false, "zero": false}, "axis": null},
   "size": {"field": "g", "type": "nominal", "scale": {"type": "ordinal", "domain": ["d", "l"], "range": [177, 160]}, "legend": null}}},
 {"data": {"name": "pts"},
  "transform": [{"filter": "datum.lam == '451' && datum.f == 'o'"}],
  "mark": {"type": "point", "shape": "square", "filled": false, "color": "#2200ee", "strokeWidth": 1.3, "opacity": 1},
  "encoding": {
   "x": {"field": "x", "type": "quantitative", "scale": {"domain": [72, 137.85], "nice": false, "zero": false}, "axis": null},
   "y": {"field": "y", "type": "quantitative", "scale": {"domain": [0, 1.15], "nice": false, "zero": false}, "axis": null},
   "size": {"field": "g", "type": "nominal", "scale": {"type": "ordinal", "domain": ["d", "l"], "range": [196, 196]}, "legend": null}}},
 {"data": {"name": "pts"},
  "transform": [{"filter": "datum.lam == '752' && datum.f == 'f'"}],
  "mark": {"type": "point", "shape": "M-1,-0.95L1,-0.95L0,0.95Z", "filled": true, "color": "#551133", "opacity": 1},
  "encoding": {
   "x": {"field": "x", "type": "quantitative", "scale": {"domain": [72, 137.85], "nice": false, "zero": false}, "axis": null},
   "y": {"field": "y", "type": "quantitative", "scale": {"domain": [0, 1.15], "nice": false, "zero": false}, "axis": null},
   "size": {"field": "g", "type": "nominal", "scale": {"type": "ordinal", "domain": ["d", "l"], "range": [246, 196]}, "legend": null}}},
 {"data": {"name": "pts"},
  "transform": [{"filter": "datum.lam == '650' && datum.f == 'f'"}],
  "mark": {"type": "point", "shape": "circle", "filled": true, "color": "#ff0000", "opacity": 1},
  "encoding": {
   "x": {"field": "x", "type": "quantitative", "scale": {"domain": [72, 137.85], "nice": false, "zero": false}, "axis": null},
   "y": {"field": "y", "type": "quantitative", "scale": {"domain": [0, 1.15], "nice": false, "zero": false}, "axis": null},
   "size": {"field": "g", "type": "nominal", "scale": {"type": "ordinal", "domain": ["d", "l"], "range": [266, 196]}, "legend": null}}},
 {"data": {"name": "pts"},
  "transform": [{"filter": "datum.lam == '568' && datum.f == 'f'"}],
  "mark": {"type": "point", "shape": "M0,-1L0.76,0L0,1L-0.76,0Z", "filled": true, "color": "#22ee22", "opacity": 1},
  "encoding": {
   "x": {"field": "x", "type": "quantitative", "scale": {"domain": [72, 137.85], "nice": false, "zero": false}, "axis": null},
   "y": {"field": "y", "type": "quantitative", "scale": {"domain": [0, 1.15], "nice": false, "zero": false}, "axis": null},
   "size": {"field": "g", "type": "nominal", "scale": {"type": "ordinal", "domain": ["d", "l"], "range": [234, 177]}, "legend": null}}},
 {"data": {"name": "pts"},
  "transform": [{"filter": "datum.lam == '451' && datum.f == 'f'"}],
  "mark": {"type": "point", "shape": "square", "filled": true, "color": "#2200ee", "opacity": 1},
  "encoding": {
   "x": {"field": "x", "type": "quantitative", "scale": {"domain": [72, 137.85], "nice": false, "zero": false}, "axis": null},
   "y": {"field": "y", "type": "quantitative", "scale": {"domain": [0, 1.15], "nice": false, "zero": false}, "axis": null},
   "size": {"field": "g", "type": "nominal", "scale": {"type": "ordinal", "domain": ["d", "l"], "range": [285, 196]}, "legend": null}}},
 {"data": {"name": "legtxt"},
  "mark": {"type": "text", "align": "left", "baseline": "middle", "fontSize": 17, "font": "Liberation Sans", "color": "#2a2a2a"},
  "encoding": {
   "x": {"field": "x", "type": "quantitative", "scale": {"domain": [72, 137.85], "nice": false, "zero": false}, "axis": null},
   "y": {"field": "y", "type": "quantitative", "scale": {"domain": [0, 1.15], "nice": false, "zero": false}, "axis": null},
   "text": {"field": "t", "type": "nominal"}}}
]
}
